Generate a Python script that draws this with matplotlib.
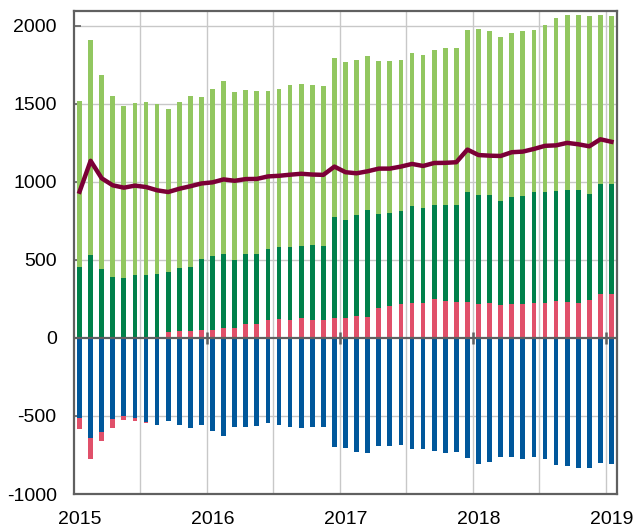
import matplotlib
matplotlib.use("Agg")
import matplotlib.pyplot as plt
import numpy as np

# monthly observations, Jan 2015 .. Jan 2019
years = ["2015", "2016", "2017", "2018", "2019"]

# red series (negative early 2015, positive afterwards)
red = [-71, -133, -55, -55, -21, -14, -6, 8, 37, 46, 42, 48, 50, 61, 61, 91, 88,
       113, 124, 115, 126, 117, 115, 130, 126, 139, 135, 192, 203, 215, 222, 223,
       251, 235, 228, 228, 220, 222, 213, 215, 220, 226, 222, 239, 228, 226, 241,
       279, 281]
# level reached by the top of the dark green segment
dark_top = [456, 530, 441, 392, 385, 404, 404, 411, 424, 445, 456, 509, 526, 539,
            500, 536, 540, 567, 585, 585, 591, 597, 587, 776, 757, 789, 819, 796,
            800, 811, 847, 835, 849, 850, 853, 938, 919, 919, 880, 901, 912, 932,
            938, 942, 949, 949, 925, 985, 985]
# level reached by the top of the light green segment
light_top = [1521, 1911, 1683, 1553, 1487, 1506, 1512, 1502, 1465, 1514, 1551,
             1546, 1595, 1644, 1578, 1589, 1585, 1582, 1595, 1619, 1627, 1620,
             1614, 1797, 1765, 1784, 1805, 1775, 1775, 1784, 1825, 1814, 1843,
             1857, 1859, 1974, 1980, 1965, 1929, 1953, 1967, 1974, 2004, 2050,
             2068, 2072, 2063, 2072, 2062]
# blue series (negative)
blue = [-513, -643, -605, -520, -503, -516, -539, -556, -530, -558, -579, -556,
        -598, -628, -571, -571, -566, -547, -556, -573, -575, -573, -569, -699,
        -703, -729, -737, -690, -690, -686, -710, -712, -722, -735, -733, -767,
        -808, -797, -763, -763, -773, -763, -773, -816, -818, -831, -835, -799,
        -805]

red = np.array(red, float)
dark_top = np.array(dark_top, float)
light_top = np.array(light_top, float)
blue = np.array(blue, float)

red_pos = np.clip(red, 0, None)
red_neg = np.clip(red, None, 0)
dark = dark_top - red_pos
light = light_top - dark_top
net = red + dark + light + blue

x = np.arange(len(red))

c_light = "#92c760"
c_dark = "#00804a"
c_red = "#e0506a"
c_blue = "#00579b"
c_line = "#7b0036"
c_axis = "#606060"
c_grid = "#c8c8c8"

plt.rcParams["font.family"] = ["Liberation Sans", "DejaVu Sans"]
plt.rcParams["axes.unicode_minus"] = False

fig = plt.figure(figsize=(6.36, 5.31), dpi=100)
ax = fig.add_axes([74 / 636, 1 - 494 / 531, 543 / 636, 483 / 531])

w = 0.43
ax.bar(x, red_pos, w, color=c_red, zorder=2)
ax.bar(x, dark, w, bottom=red_pos, color=c_dark, zorder=2)
ax.bar(x, light, w, bottom=dark_top, color=c_light, zorder=2)
ax.bar(x, blue, w, color=c_blue, zorder=2)
ax.bar(x, red_neg, w, bottom=blue, color=c_red, zorder=2)

ax.plot(x, net, color=c_line, lw=3.2, solid_capstyle="projecting",
        solid_joinstyle="round", zorder=4)

ax.set_xlim(-0.5, len(x) - 0.5)
ax.set_ylim(-1000, 2095)

ax.set_yticks([-1000, -500, 0, 500, 1000, 1500, 2000])
ax.set_xticks(np.arange(0, len(x), 12))
ax.set_xticklabels(years)
ax.tick_params(axis="y", direction="in", length=5, width=1.2, color=c_axis,
               labelsize=14, pad=12.5)
ax.tick_params(axis="x", length=0, labelsize=14, pad=12)

for v in [-500, 500, 1000, 1500, 2000]:
    ax.axhline(v, color=c_grid, lw=1, zorder=1)
for v in np.arange(5.5, len(x), 6):
    ax.axvline(v, color=c_grid, lw=1, zorder=1)

ax.axhline(0, color=c_axis, lw=1.6, zorder=3)
ax.plot(np.arange(11.5, len(x), 12), np.zeros(4), ls="none", marker="|",
        ms=9, mew=1.8, color=c_axis, zorder=3)

for s in ax.spines.values():
    s.set_color(c_axis)
    s.set_linewidth(1.6)

fig.savefig("out.png", dpi=100)
